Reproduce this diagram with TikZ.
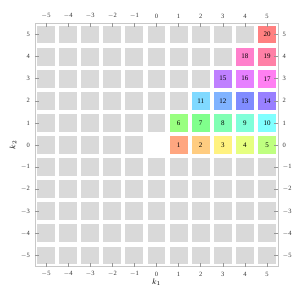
\documentclass[tikz,border=0pt]{standalone}
\usepackage{fontspec}
\setmainfont{Liberation Serif}
\definecolor{cellgray}{RGB}{217,217,217}
\definecolor{framegray}{RGB}{200,200,200}
\definecolor{tickgray}{RGB}{150,150,150}
\begin{document}
\begin{tikzpicture}[x=22.1pt,y=22.1pt,
  cell/.style={minimum size=17.9pt,inner sep=0pt,outer sep=0pt,draw=none,font=\fontsize{7}{8}\selectfont},
  ticklab/.style={font=\fontsize{6.5}{7}\selectfont,inner sep=0pt,text=black!80},
  tickmark/.style={draw=tickgray,line width=0.5pt},
  axlab/.style={font=\fontsize{8}{9}\selectfont,inner sep=0pt}]
\useasboundingbox (-156.5pt,-153pt) rectangle (143.5pt,145pt);
% grey cells
\foreach \a in {-5,...,5}{
  \foreach \b in {-5,...,5}{
    \pgfmathtruncatemacro{\show}{(\b<0) || (\b==0 && \a<0) || (\b>0 && \a<\b)}
    \ifnum\show=1
      \node[cell,fill=cellgray] (g\a\b) at (\a,\b) {};
    \fi
  }
}
% coloured cells
\foreach \i/\a/\b/\cr/\cg/\cb in {1/1/0/255/166/128,2/2/0/255/204/128,3/3/0/255/242/128,
  4/4/0/230/255/128,5/5/0/191/255/128,6/1/1/153/255/128,7/2/1/128/255/140,
  8/3/1/128/255/179,9/4/1/128/255/217,10/5/1/128/255/255,11/2/2/128/217/255,
  12/3/2/128/179/255,13/4/2/128/140/255,14/5/2/153/128/255,15/3/3/191/128/255,
  16/4/3/230/128/255,17/5/3/255/128/242,18/4/4/255/128/204,19/5/4/255/128/166,
  20/5/5/255/128/128}{
  \definecolor{cc}{RGB}{\cr,\cg,\cb}
  \node[cell,fill=cc] (n\i) at (\a,\b) {\i};
}
% frame
\draw[framegray,line width=0.8pt] (-5.5,-5.5) rectangle (5.5,5.5);
% ticks and labels
\foreach \k in {-5,...,5}{
  \draw[tickmark] (\k,5.5) -- ++(0,-4pt);
  \draw[tickmark] (\k,-5.5) -- ++(0,4pt);
  \draw[tickmark] (-5.5,\k) -- ++(4pt,0);
  \draw[tickmark] (5.5,\k) -- ++(-4pt,0);
  \pgfmathtruncatemacro{\kk}{\k}
  \ifnum\kk<0
    \edef\lab{$-$\the\numexpr-\kk\relax}
  \else
    \edef\lab{\kk}
  \fi
  \node[ticklab] (t\k) at (\k,5.84) {\lab};
  \node[ticklab] (b\k) at (\k,-5.84) {\lab};
  \node[ticklab,anchor=east] (l\k) at (-5.72,\k) {\lab};
  \node[ticklab,anchor=west] (r\k) at (5.7,\k) {\lab};
}
\node[axlab] (xlab) at (0,-6.2) {$k_1$};
\node[axlab,rotate=90] (ylab) at (-6.49,0) {$k_2$};
\end{tikzpicture}
\end{document}
